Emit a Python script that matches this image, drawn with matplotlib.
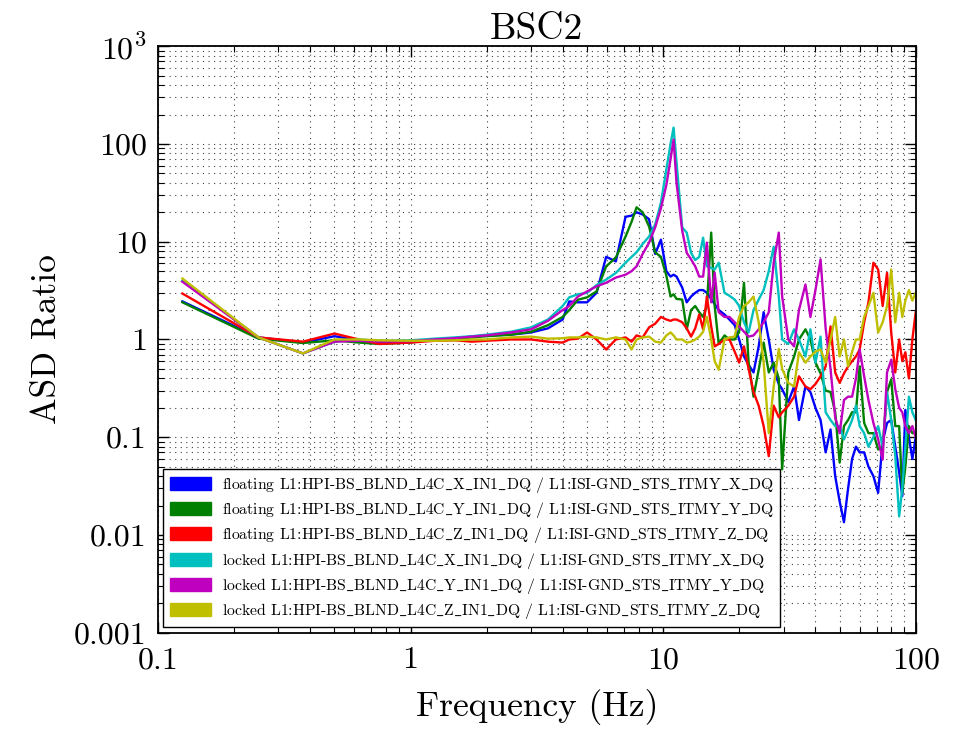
import matplotlib
matplotlib.use('Agg')
import matplotlib.pyplot as plt
from matplotlib.patches import Patch

plt.rcParams['font.family'] = ['cmr10', 'DejaVu Serif']
plt.rcParams['mathtext.fontset'] = 'cm'
plt.rcParams['axes.formatter.use_mathtext'] = True

# frequency grid (Hz), shared by all six ratios
freq = [0.125, 0.25, 0.375, 0.5, 0.625, 0.75, 1.0, 1.25, 1.5, 1.75,
        2.0, 2.5, 3.0, 3.5, 4.0, 4.25, 4.6, 5.0, 5.45, 5.95,
        6.5, 7.1, 7.5, 7.85, 8.3, 8.8, 9.3, 9.8, 10.3, 10.7,
        11.0, 11.3, 11.9, 12.4, 12.9, 13.4, 13.9, 14.4, 14.9, 15.5,
        16.0, 16.6, 17.5, 18.3, 19.2, 20.0, 20.9, 21.8, 22.8, 23.9,
        25.0, 26.2, 27.4, 28.7, 29.6, 31.3, 33.0, 34.5, 36.6, 38.3,
        40.1, 42.0, 44.0, 46.0, 48.0, 50.0, 52.0, 54.0, 56.0, 58.0,
        60.0, 62.5, 65.0, 68.0, 71.0, 74.0, 77.0, 80.0, 83.0, 86.0,
        88.5, 91.0, 94.0, 97.0, 100.0]

floating_x = [2.45, 1.05, 0.93, 1.08, 0.98, 0.94, 0.95, 1.0, 1.03, 1.07,
              1.1, 1.12, 1.18, 1.3, 1.6, 2.45, 2.4, 2.4, 3.0, 7.0,
              6.3, 18, 18.5, 20, 19, 17, 7.5, 10.5, 5.0, 4.4,
              4.6, 4.4, 3.4, 2.4, 2.75, 3.0, 3.2, 3.2, 3.0, 2.6,
              2.3, 2.0, 1.8, 1.6, 1.4, 1.0, 0.67, 0.55, 0.46, 0.85,
              1.9, 1.0, 0.49, 0.35, 0.31, 0.23, 0.33, 0.15, 0.33, 0.29,
              0.2, 0.15, 0.07, 0.12, 0.04, 0.022, 0.0135, 0.03, 0.06, 0.08,
              0.07, 0.07, 0.05, 0.04, 0.027, 0.09, 0.14, 0.15, 0.08, 0.044,
              0.025, 0.19, 0.1, 0.06, 0.1]

floating_y = [2.4, 1.02, 0.92, 0.98, 0.93, 0.9, 0.93, 1.0, 1.02, 1.05,
              1.08, 1.12, 1.2, 1.4, 1.7, 2.0, 2.55, 2.7, 3.1, 5.6,
              6.9, 11.3, 16, 22.5, 20, 14.3, 7.8, 7.0, 4.5, 2.75,
              2.9, 2.6, 2.56, 1.27, 2.0, 2.2, 1.9, 1.7, 2.2, 12.4,
              2.2, 0.9, 1.1, 1.0, 1.0, 1.2, 3.8, 0.58, 0.26, 0.49,
              0.93, 0.46, 0.58, 0.4, 0.047, 0.46, 0.67, 1.0, 1.27, 1.0,
              0.58, 0.45, 0.3, 0.29, 0.18, 0.055, 0.13, 0.15, 0.18, 0.18,
              0.53, 0.14, 0.11, 0.11, 0.075, 0.08, 0.29, 0.39, 0.13, 0.13,
              0.027, 0.05, 0.13, 0.11, 0.11]

floating_z = [2.95, 1.05, 0.95, 1.15, 1.0, 0.9, 0.93, 0.97, 0.98, 0.95,
              0.97, 1.0, 1.0, 0.95, 0.93, 1.0, 1.02, 1.18, 1.0, 0.79,
              1.0, 1.05, 0.95, 1.1, 1.05, 1.33, 1.45, 1.7, 1.6, 1.55,
              1.6, 1.6, 1.5, 1.3, 1.07, 1.3, 1.8, 1.27, 2.75, 1.36,
              0.85, 0.9, 1.0, 1.0, 0.75, 0.58, 0.85, 0.5, 0.29, 0.21,
              0.13, 0.064, 0.21, 0.16, 0.18, 0.21, 0.26, 0.42, 0.33, 0.31,
              0.35, 0.42, 0.53, 1.36, 0.46, 0.36, 0.45, 0.53, 0.6, 0.67,
              0.79, 1.5, 2.4, 6.1, 5.2, 2.2, 4.8, 1.18, 0.46, 1.0,
              0.6, 0.74, 0.4, 1.0, 1.9]

locked_x = [4.0, 1.05, 0.72, 0.95, 1.0, 0.97, 0.98, 1.02, 1.05, 1.08,
            1.12, 1.2, 1.33, 1.6, 2.2, 2.7, 2.9, 3.0, 3.6, 4.1,
            4.8, 6.1, 7.0, 7.8, 9.5, 11.3, 15, 25, 55, 100,
            147, 65, 14, 12.4, 7.7, 6.5, 7.0, 11.0, 5.6, 5.4,
            5.2, 6.1, 3.0, 2.8, 2.56, 2.2, 1.5, 1.18, 2.0, 2.56,
            3.2, 5.0, 8.9, 2.75, 1.0, 0.9, 1.27, 1.0, 0.67, 1.27,
            0.58, 1.07, 0.18, 0.15, 0.13, 0.13, 0.095, 0.12, 0.15, 0.21,
            0.13, 0.11, 0.08, 0.1, 0.13, 0.08, 0.29, 0.15, 0.064, 0.0155,
            0.03, 0.08, 0.26, 0.18, 0.15]

locked_y = [3.9, 1.05, 0.72, 0.95, 0.97, 0.95, 0.96, 1.0, 1.03, 1.07,
            1.1, 1.18, 1.27, 1.55, 2.0, 2.2, 2.75, 3.1, 3.5, 3.8,
            4.3, 4.6, 5.0, 5.6, 7.5, 9.8, 14, 22, 38, 70,
            111, 40, 13, 7.7, 6.6, 5.6, 4.4, 4.4, 9.8, 2.4,
            4.8, 1.9, 1.7, 1.7, 1.5, 1.36, 1.2, 1.07, 1.1, 1.27,
            1.5, 1.9, 6.1, 12.4, 2.75, 1.0, 0.85, 2.0, 3.65, 1.7,
            3.2, 6.6, 1.3, 0.5, 0.16, 0.11, 0.24, 0.26, 0.26, 0.4,
            0.79, 0.42, 0.24, 0.14, 0.095, 0.059, 0.46, 0.62, 0.31, 0.2,
            0.18, 0.13, 0.11, 0.13, 0.1]

locked_z = [4.2, 1.05, 0.72, 1.0, 1.0, 0.98, 0.97, 0.97, 0.98, 1.0,
            1.0, 1.05, 1.07, 1.02, 1.03, 1.05, 1.05, 1.07, 1.05, 1.0,
            1.05, 1.0, 0.79, 1.0, 1.05, 1.07, 0.95, 0.93, 1.1, 1.18,
            1.1, 1.0, 1.0, 0.93, 0.95, 1.0, 1.07, 1.2, 1.7, 1.0,
            0.6, 0.49, 1.0, 1.05, 1.07, 1.7, 2.2, 2.4, 2.75, 1.5,
            0.58, 0.11, 0.33, 0.8, 0.5, 0.36, 0.33, 0.74, 0.58, 0.67,
            0.75, 0.79, 0.58, 1.0, 1.7, 0.67, 1.0, 0.53, 0.75, 1.0,
            1.0, 1.7, 2.2, 3.0, 1.18, 1.5, 2.2, 5.2, 1.5, 3.0,
            1.7, 2.5, 3.2, 2.5, 3.0]

series = [floating_x, floating_y, floating_z, locked_x, locked_y, locked_z]
colors = ['b', 'g', 'r', 'c', 'm', 'y']
labels = [
    'floating L1:HPI-BS_BLND_L4C_X_IN1_DQ / L1:ISI-GND_STS_ITMY_X_DQ',
    'floating L1:HPI-BS_BLND_L4C_Y_IN1_DQ / L1:ISI-GND_STS_ITMY_Y_DQ',
    'floating L1:HPI-BS_BLND_L4C_Z_IN1_DQ / L1:ISI-GND_STS_ITMY_Z_DQ',
    'locked L1:HPI-BS_BLND_L4C_X_IN1_DQ / L1:ISI-GND_STS_ITMY_X_DQ',
    'locked L1:HPI-BS_BLND_L4C_Y_IN1_DQ / L1:ISI-GND_STS_ITMY_Y_DQ',
    'locked L1:HPI-BS_BLND_L4C_Z_IN1_DQ / L1:ISI-GND_STS_ITMY_Z_DQ',
]
# cmr10 has a dot accent where '_' should be, so use the mathtext escape
tex_labels = [s.replace('_', r'$\_$') for s in labels]

xticks = [0.1, 1, 10, 100]
xtick_labels = ['0.1', '1', '10', '100']
yticks = [1e-3, 1e-2, 1e-1, 1, 10, 100, 1000]
ytick_labels = ['0.001', '0.01', '0.1', '1', '10', '100', r'$10^3$']

fig = plt.figure(figsize=(9.69, 7.34), dpi=100)
ax = fig.add_axes([0.163, 0.138, 0.782, 0.799])

for vals, c in zip(series, colors):
    ax.plot(freq, vals, color=c, lw=1.7)

ax.set_xscale('log')
ax.set_yscale('log')
ax.set_xlim(0.1, 100)
ax.set_ylim(1e-3, 1e3)
ax.set_xticks(xticks)
ax.set_xticklabels(xtick_labels)
ax.set_yticks(yticks)
ax.set_yticklabels(ytick_labels)
ax.tick_params(which='both', direction='in', top=True, right=True, labelsize=23)
ax.tick_params(axis='x', which='major', length=8, width=1, pad=10)
ax.tick_params(axis='y', which='major', length=8, width=1, pad=8)
ax.tick_params(which='minor', length=4, width=0.8)
ax.grid(True, which='both', color='0.25', linestyle=(0, (1, 4)), linewidth=0.8)
for s in ax.spines.values():
    s.set_linewidth(1.3)

ax.set_title('BSC2', fontsize=27, pad=5)
ax.set_xlabel('Frequency (Hz)', fontsize=25.5, labelpad=11)
ax.set_ylabel('ASD Ratio', fontsize=25.5, labelpad=8)

handles = [Patch(facecolor=c, edgecolor=c) for c in colors]
leg = ax.legend(handles, tex_labels, loc='lower left', fontsize=11.3,
                fancybox=False, framealpha=1, edgecolor='k',
                handlelength=2.6, handleheight=0.9, labelspacing=0.33,
                borderaxespad=0.35, handletextpad=0.7)
leg.get_frame().set_linewidth(1.0)

fig.savefig('out.png', dpi=100)
